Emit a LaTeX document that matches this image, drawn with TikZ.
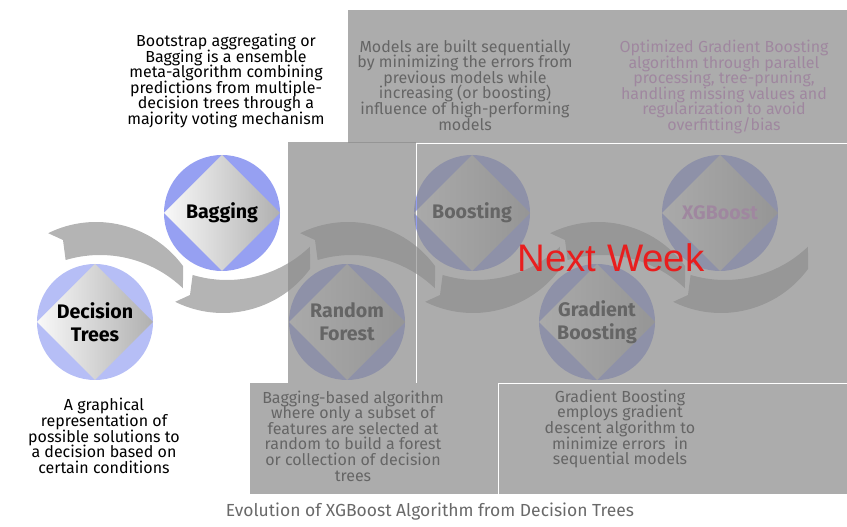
\documentclass[tikz,border=0pt]{standalone}
\usepackage{fontspec}
\setmainfont{Fira Sans}
\newfontfamily\weekfont{Liberation Sans}
\usepackage{xcolor}
\usetikzlibrary{calc}
\setlength{\lineskiplimit}{-20pt}

\definecolor{ringblue}{RGB}{150,160,242}
\definecolor{paleblue}{RGB}{182,190,246}
\definecolor{bandgray}{RGB}{180,180,180}
\definecolor{veil}{RGB}{140,140,140}
\definecolor{xgpink}{RGB}{210,125,210}
\definecolor{captiongray}{RGB}{105,105,105}
\definecolor{weekred}{RGB}{232,30,30}

\tikzset{
  stage/.style={circle, minimum size=87pt, inner sep=0pt, fill=ringblue, align=center,
    font=\fontsize{14.7}{17.2}\selectfont\bfseries,
    path picture={\shade[left color=gray!5, right color=gray!62]
      (path picture bounding box.north) -- (path picture bounding box.east) --
      (path picture bounding box.south) -- (path picture bounding box.west) -- cycle;}},
  blurb/.style={align=center, inner sep=0pt, font=\fontsize{12}{11.7}\selectfont},
  shade box/.style={fill=veil, fill opacity=0.72}
}

\begin{document}
\begin{tikzpicture}[x=0.75pt, y=-0.75pt]
    \useasboundingbox (0,0) rectangle (847,527);

    % centres of the six stages
    \coordinate (c1) at (95,322);
    \coordinate (c2) at (222,213);
    \coordinate (c3) at (347,322);
    \coordinate (c4) at (472,213);
    \coordinate (c5) at (597,322);
    \coordinate (c6) at (720,213);

    % bands over the lower stages
    \foreach \c in {c1, c3, c5} {
        \fill[bandgray] ($(\c)+(1,8)+(-116.3:108)$) arc[start angle=-116.3, end angle=-36.3, radius=108]
            -- ($(\c)+(5,53)+(-46.25:120)$) arc[start angle=-46.25, end angle=-106.65, radius=120]
            -- ($(\c)+(-32,-82)$) -- cycle;
    }
    % bands under the upper stages
    \foreach \c in {c2, c4, c6} {
        \fill[bandgray] ($(\c)+(1,-8)+(116.3:108)$) arc[start angle=116.3, end angle=36.3, radius=108]
            -- ($(\c)+(5,-53)+(46.25:120)$) arc[start angle=46.25, end angle=106.65, radius=120]
            -- ($(\c)+(-32,82)$) -- cycle;
    }

    % stages
    \node[stage, fill=paleblue] (trees) at (c1) {Decision\\Trees};
    \node[stage] (bagging) at (c2) {Bagging};
    \node[stage] (forest) at (c3) {Random\\Forest};
    \node[stage] (boosting) at (c4) {Boosting};
    \node[stage] (gradient) at (c5) {Gradient\\Boosting};
    \node[stage, text=xgpink] (xgboost) at (c6) {XGBoost};

    % descriptions
    \node[blurb] (bagtext) at (226,81) {Bootstrap aggregating or\\Bagging is a ensemble\\meta-algorithm combining\\predictions from multiple-\\decision trees through a\\majority voting mechanism};
    \node[blurb] (treetext) at (104,436) {A graphical\\representation of\\possible solutions to\\a decision based on\\certain conditions};
    \node[blurb] (foresttext) at (353,436) {Bagging-based algorithm\\where only a subset of\\features are selected at\\random to build a forest\\or collection of decision\\trees};
    \node[blurb] (boosttext) at (465,85) {Models are built sequentially\\by minimizing the errors from\\previous models while\\increasing (or boosting)\\influence of high-performing\\models};
    \node[blurb, text=xgpink] (xgtext) at (724,87) {Optimized Gradient Boosting\\algorithm through parallel\\processing, tree-pruning,\\handling missing values and\\regularization to avoid\\overfitting/bias};
    \node[blurb] (gradtext) at (620,429) {Gradient Boosting\\employs gradient\\descent algorithm to\\minimize errors~ in\\sequential models};

    % shaded boxes over the later stages
    \fill[shade box] (348,10) rectangle (847,143);
    \fill[shade box] (288,142) rectangle (415.5,383);
    \fill[shade box] (416.5,143.8) rectangle (847,383);
    \fill[shade box] (250,383) rectangle (497.5,494);
    \fill[shade box] (498.5,383.8) rectangle (847,494);

    \node[text=weekred, font=\weekfont\fontsize{28.8}{30}\selectfont] (nextweek) at (611,258) {Next Week};

    \node[text=captiongray, font=\fontsize{13.1}{15}\selectfont] (caption) at (430,512) {Evolution of XGBoost Algorithm from Decision Trees};

\end{tikzpicture}
\end{document}
